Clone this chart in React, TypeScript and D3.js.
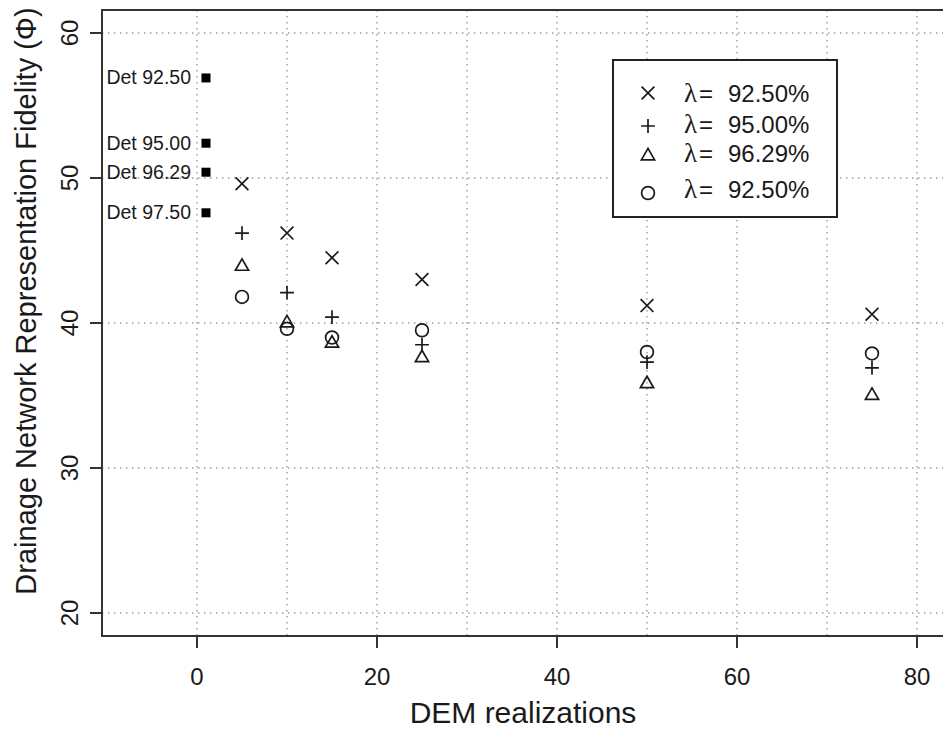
import React, { useRef, useEffect } from 'react';
import * as d3 from 'd3';

// DEM realizations on the x axis
const realizations = [5, 10, 15, 25, 50, 75];

// fidelity per threshold (one array per legend entry)
const fidelityA = [49.6, 46.2, 44.5, 43.0, 41.2, 40.6]; // x
const fidelityB = [46.2, 42.1, 40.4, 38.5, 37.3, 36.9]; // +
const fidelityC = [43.9, 40.0, 38.6, 37.6, 35.8, 35.0]; // triangle
const fidelityD = [41.8, 39.6, 39.0, 39.5, 38.0, 37.9]; // circle

const legendLabels = ['92.50%', '95.00%', '96.29%', '92.50%'];
const markTypes = ['times', 'plus', 'triangle', 'circle'];

// deterministic runs
const detX = 1;
const detLabels = ['Det 92.50', 'Det 95.00', 'Det 96.29', 'Det 97.50'];
const detValues = [56.9, 52.4, 50.4, 47.6];

const xTicks = [0, 20, 40, 60, 80];
const xGrid = [0, 10, 20, 30, 40, 50, 60, 70, 80];
const yTicks = [20, 30, 40, 50, 60];

const FONT = '"Liberation Sans", Arial, Helvetica, sans-serif';
const INK = '#1a1a1a';

function markPath(type: string, cx: number, cy: number): string {
  const p = d3.path();
  if (type === 'times') {
    const r = 6.4;
    p.moveTo(cx - r, cy - r); p.lineTo(cx + r, cy + r);
    p.moveTo(cx - r, cy + r); p.lineTo(cx + r, cy - r);
  } else if (type === 'plus') {
    const r = 6.9;
    p.moveTo(cx - r, cy); p.lineTo(cx + r, cy);
    p.moveTo(cx, cy - r); p.lineTo(cx, cy + r);
  } else if (type === 'triangle') {
    const r = 7.6, xc = 6.6, yc = 3.8;
    p.moveTo(cx, cy - r); p.lineTo(cx + xc, cy + yc); p.lineTo(cx - xc, cy + yc); p.closePath();
  } else {
    p.arc(cx, cy, 6.4, 0, 2 * Math.PI);
  }
  return p.toString();
}

const App: React.FC = () => {
  const svgRef = useRef<SVGSVGElement>(null);

  useEffect(() => {
    if (!svgRef.current) return;
    const svg = d3.select(svgRef.current);
    svg.selectAll('*').remove();

    const left = 102, right = 945, top = 10, bottom = 636;

    const x = d3.scaleLinear().domain([0, 80]).range([197, 917]);
    const y = d3.scaleLinear().domain([20, 60]).range([613, 33]);

    // grid
    const grid = svg.append('g')
      .attr('stroke', '#9a9a9a')
      .attr('stroke-width', 1.4)
      .attr('stroke-dasharray', '1.4 4.6');
    grid.selectAll('.vg').data(xGrid).enter().append('line')
      .attr('x1', d => x(d)).attr('x2', d => x(d))
      .attr('y1', top).attr('y2', bottom);
    grid.selectAll('.hg').data(yTicks).enter().append('line')
      .attr('x1', left).attr('x2', right)
      .attr('y1', d => y(d)).attr('y2', d => y(d));

    // frame
    svg.append('rect')
      .attr('x', left).attr('y', top)
      .attr('width', right - left).attr('height', bottom - top)
      .attr('fill', 'none').attr('stroke', '#333').attr('stroke-width', 2);

    // x axis
    const xAxis = svg.append('g');
    xAxis.selectAll('line').data(xTicks).enter().append('line')
      .attr('x1', d => x(d)).attr('x2', d => x(d))
      .attr('y1', bottom).attr('y2', bottom + 12)
      .attr('stroke', '#333').attr('stroke-width', 2);
    xAxis.selectAll('text').data(xTicks).enter().append('text')
      .attr('x', d => x(d)).attr('y', 685)
      .attr('text-anchor', 'middle')
      .attr('font-family', FONT).attr('font-size', 24).attr('fill', INK)
      .text(d => d);

    // y axis
    const yAxis = svg.append('g');
    yAxis.selectAll('line').data(yTicks).enter().append('line')
      .attr('x1', left - 12).attr('x2', left)
      .attr('y1', d => y(d)).attr('y2', d => y(d))
      .attr('stroke', '#333').attr('stroke-width', 2);
    yAxis.selectAll('text').data(yTicks).enter().append('text')
      .attr('transform', d => `translate(78,${y(d)}) rotate(-90)`)
      .attr('text-anchor', 'middle')
      .attr('font-family', FONT).attr('font-size', 24).attr('fill', INK)
      .text(d => d);

    // axis titles
    svg.append('text')
      .attr('x', 523).attr('y', 723)
      .attr('text-anchor', 'middle')
      .attr('font-family', FONT).attr('font-size', 30).attr('fill', INK)
      .text('DEM realizations');
    svg.append('text')
      .attr('transform', 'translate(36,301) rotate(-90)')
      .attr('text-anchor', 'middle')
      .attr('font-family', FONT).attr('font-size', 29).attr('fill', INK)
      .text('Drainage Network Representation Fidelity (Φ)');

    // series
    const series = [fidelityA, fidelityB, fidelityC, fidelityD];
    series.forEach((vals, i) => {
      svg.append('g').selectAll('path').data(vals).enter().append('path')
        .attr('d', (d, j) => markPath(markTypes[i], x(realizations[j]), y(d)))
        .attr('fill', 'none').attr('stroke', INK).attr('stroke-width', 1.7);
    });

    // deterministic points
    const det = svg.append('g');
    det.selectAll('rect').data(detValues).enter().append('rect')
      .attr('x', x(detX) - 4.5).attr('y', d => y(d) - 4.5)
      .attr('width', 9).attr('height', 9).attr('fill', '#000');
    det.selectAll('text').data(detValues).enter().append('text')
      .attr('x', x(detX) - 15).attr('y', d => y(d) + 6.5)
      .attr('text-anchor', 'end')
      .attr('font-family', FONT).attr('font-size', 19.5).attr('fill', INK)
      .text((d, i) => detLabels[i]);

    // legend
    const lg = svg.append('g');
    lg.append('rect')
      .attr('x', 613).attr('y', 60).attr('width', 224).attr('height', 157)
      .attr('fill', '#fff').attr('stroke', '#222').attr('stroke-width', 2);
    const symY = [93, 126, 156, 193];
    const txtY = [102, 133, 162, 198];
    legendLabels.forEach((lab, i) => {
      lg.append('path')
        .attr('d', markPath(markTypes[i], 648, symY[i]))
        .attr('fill', 'none').attr('stroke', INK).attr('stroke-width', 1.7);
      const t = lg.append('text')
        .attr('y', txtY[i]).attr('fill', INK).attr('font-size', 24).attr('font-family', FONT);
      t.append('tspan').attr('x', 684)
        .attr('font-family', '"Liberation Serif", "DejaVu Serif", serif').attr('font-size', 27)
        .text('λ');
      t.append('tspan').attr('x', 699).text('=');
      t.append('tspan').attr('x', 728).text(lab);
    });
  }, []);

  return (
    <svg ref={svgRef} width={943} height={729}
      style={{ position: 'absolute', left: 0, top: 0, background: '#fff' }} />
  );
};

export default App;
